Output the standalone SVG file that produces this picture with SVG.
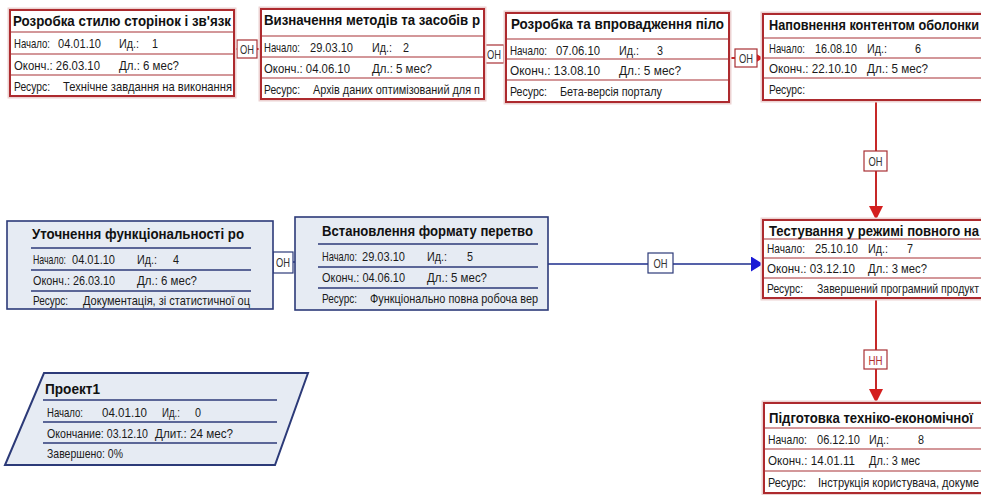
<svg xmlns="http://www.w3.org/2000/svg" width="981" height="495" viewBox="0 0 981 495">
<defs>
<style>
.bg{fill:#ffffff}
.rbox{fill:#ffffff;stroke:#ad2a2e;stroke-width:2}
.rglow{fill:none;stroke:#ecd2d2;stroke-width:5}
.rsep{stroke:#a83034;stroke-width:1.2}
.bbox{fill:#e6ebf3;stroke:#2c3a78;stroke-width:1.6}
.bsep{stroke:#2c3a78;stroke-width:1.6}
.t{font-family:"Liberation Sans",Arial,sans-serif;font-size:13px;fill:#1a1a1a}
.h{font-family:"Liberation Sans",Arial,sans-serif;font-size:15px;font-weight:bold;fill:#111}
.lbl{fill:#ffffff;stroke:#a83034;stroke-width:1.2}
.lblb{fill:#ffffff;stroke:#2c3a78;stroke-width:1.2}
.lt{font-family:"Liberation Sans",Arial,sans-serif;font-size:13px;fill:#333}
.rline{stroke:#c62828;stroke-width:2;fill:none}
.bline{stroke:#1c2c8c;stroke-width:1.5;fill:none}
</style>
<marker id="arrR" markerUnits="userSpaceOnUse" markerWidth="14" markerHeight="16" refX="14" refY="7" orient="auto" viewBox="0 0 14 14"><path d="M0,0 L14,7 L0,14 z" fill="#d41f1f"/></marker>
<marker id="arrRs" markerUnits="userSpaceOnUse" markerWidth="8" markerHeight="10" refX="8" refY="5" orient="auto" viewBox="0 0 8 10"><path d="M0,0 L8,5 L0,10 z" fill="#d41f1f"/></marker>
<marker id="arrB" markerUnits="userSpaceOnUse" markerWidth="12" markerHeight="15" refX="12" refY="7.5" orient="auto" viewBox="0 0 12 15"><path d="M0,0 L12,7.5 L0,15 z" fill="#1a1ad6"/></marker>
</defs>
<rect class="bg" x="0" y="0" width="981" height="495"/>

<g id="connectors">
<line class="rline" x1="234" y1="49" x2="237" y2="49"/>
<line class="rline" x1="257" y1="49" x2="261" y2="49"/>
<line class="rline" x1="504" y1="54" x2="506" y2="54"/>
<line class="rline" x1="729" y1="58" x2="735" y2="58"/>
<line class="rline" x1="757" y1="58" x2="763" y2="58" marker-end="url(#arrRs)"/>
<line class="rline" x1="876" y1="100" x2="876" y2="220" marker-end="url(#arrR)"/>
<line class="rline" x1="876" y1="298" x2="876" y2="403" marker-end="url(#arrR)"/>
<line class="bline" x1="548" y1="264" x2="763" y2="264" marker-end="url(#arrB)"/>
<line class="bline" x1="293" y1="262" x2="295" y2="262"/>
<g id="label-1-2"><rect class="lbl" x="237" y="40" width="20" height="18"/><text class="lt" x="240" y="53.5" textLength="14" lengthAdjust="spacingAndGlyphs">ОН</text></g>
<g id="label-2-3"><rect class="lbl" x="484" y="45" width="20" height="18"/><text class="lt" x="487" y="58.5" textLength="14" lengthAdjust="spacingAndGlyphs">ОН</text></g>
<g id="label-3-6"><rect class="lbl" x="735" y="49" width="22" height="18"/><text class="lt" x="739" y="62.5" textLength="14" lengthAdjust="spacingAndGlyphs">ОН</text></g>
<g id="label-6-7"><rect class="lbl" x="864" y="151" width="23" height="20"/><text class="lt" x="868.5" y="165.5" textLength="14" lengthAdjust="spacingAndGlyphs">ОН</text></g>
<g id="label-7-8"><rect class="lbl" x="864" y="350" width="23" height="19"/><text class="lt" x="868.5" y="364.5" textLength="14" lengthAdjust="spacingAndGlyphs" style="fill:#b03030">НН</text></g>
<g id="label-5-7"><rect class="lblb" x="648" y="253" width="25" height="20"/><text class="lt" x="653.5" y="267.5" textLength="14" lengthAdjust="spacingAndGlyphs">ОН</text></g>
<g id="label-4-5"><rect class="lblb" x="273" y="252" width="20" height="21"/><text class="lt" x="276" y="267" textLength="14" lengthAdjust="spacingAndGlyphs">ОН</text></g>
</g>

<g id="node1">
<rect class="rglow" x="10" y="10" width="224" height="86"/>
<rect class="rbox" x="10" y="10" width="224" height="86"/>
<line class="rsep" x1="10" y1="32" x2="234" y2="32"/>
<line class="rsep" x1="10" y1="54" x2="234" y2="54"/>
<line class="rsep" x1="10" y1="75" x2="234" y2="75"/>
<text class="h" x="13" y="26" textLength="218" lengthAdjust="spacingAndGlyphs">Розробка стилю сторінок і зв'язк</text>
<text class="t" x="14" y="48" textLength="36" lengthAdjust="spacingAndGlyphs">Начало:</text>
<text class="t" x="58" y="48" textLength="43" lengthAdjust="spacingAndGlyphs">04.01.10</text>
<text class="t" x="119" y="48" textLength="20" lengthAdjust="spacingAndGlyphs">Ид.:</text>
<text class="t" x="152" y="48" textLength="6" lengthAdjust="spacingAndGlyphs">1</text>
<text class="t" x="14" y="69.5" textLength="86" lengthAdjust="spacingAndGlyphs">Оконч.: 26.03.10</text>
<text class="t" x="119" y="69.5" textLength="60" lengthAdjust="spacingAndGlyphs">Дл.: 6 мес?</text>
<text class="t" x="14" y="90.5" textLength="36" lengthAdjust="spacingAndGlyphs">Ресурс:</text>
<text class="t" x="63" y="90.5" textLength="169" lengthAdjust="spacingAndGlyphs">Технічне завдання на виконання</text>
</g>

<g id="node2">
<rect class="rglow" x="261" y="9" width="223" height="90"/>
<rect class="rbox" x="261" y="9" width="223" height="90"/>
<line class="rsep" x1="261" y1="36" x2="484" y2="36"/>
<line class="rsep" x1="261" y1="57" x2="484" y2="57"/>
<line class="rsep" x1="261" y1="78" x2="484" y2="78"/>
<text class="h" x="264" y="25" textLength="216" lengthAdjust="spacingAndGlyphs">Визначення методів та засобів р</text>
<text class="t" x="264" y="51.5" textLength="36" lengthAdjust="spacingAndGlyphs">Начало:</text>
<text class="t" x="310" y="51.5" textLength="43" lengthAdjust="spacingAndGlyphs">29.03.10</text>
<text class="t" x="372" y="51.5" textLength="20" lengthAdjust="spacingAndGlyphs">Ид.:</text>
<text class="t" x="403" y="51.5" textLength="6" lengthAdjust="spacingAndGlyphs">2</text>
<text class="t" x="264" y="72.5" textLength="86" lengthAdjust="spacingAndGlyphs">Оконч.: 04.06.10</text>
<text class="t" x="372" y="72.5" textLength="60" lengthAdjust="spacingAndGlyphs">Дл.: 5 мес?</text>
<text class="t" x="264" y="93.5" textLength="36" lengthAdjust="spacingAndGlyphs">Ресурс:</text>
<text class="t" x="313" y="93.5" textLength="167" lengthAdjust="spacingAndGlyphs">Архів даних оптимізований для п</text>
</g>

<g id="node3">
<rect class="rglow" x="506" y="13" width="223" height="89"/>
<rect class="rbox" x="506" y="13" width="223" height="89"/>
<line class="rsep" x1="506" y1="39" x2="729" y2="39"/>
<line class="rsep" x1="506" y1="59" x2="729" y2="59"/>
<line class="rsep" x1="506" y1="80" x2="729" y2="80"/>
<text class="h" x="511" y="29" textLength="213" lengthAdjust="spacingAndGlyphs">Розробка та впровадження піло</text>
<text class="t" x="510" y="54.5" textLength="37" lengthAdjust="spacingAndGlyphs">Начало:</text>
<text class="t" x="556" y="54.5" textLength="44" lengthAdjust="spacingAndGlyphs">07.06.10</text>
<text class="t" x="619" y="54.5" textLength="20" lengthAdjust="spacingAndGlyphs">Ид.:</text>
<text class="t" x="657" y="54.5" textLength="6" lengthAdjust="spacingAndGlyphs">3</text>
<text class="t" x="510" y="74.5" textLength="90" lengthAdjust="spacingAndGlyphs">Оконч.: 13.08.10</text>
<text class="t" x="619" y="74.5" textLength="62" lengthAdjust="spacingAndGlyphs">Дл.: 5 мес?</text>
<text class="t" x="510" y="95.5" textLength="37" lengthAdjust="spacingAndGlyphs">Ресурс:</text>
<text class="t" x="560" y="95.5" textLength="102" lengthAdjust="spacingAndGlyphs">Бета-версія порталу</text>
</g>

<g id="node6">
<rect class="rglow" x="763" y="14" width="230" height="86"/>
<rect class="rbox" x="763" y="14" width="230" height="86"/>
<line class="rsep" x1="763" y1="38" x2="993" y2="38"/>
<line class="rsep" x1="763" y1="58" x2="993" y2="58"/>
<line class="rsep" x1="763" y1="78" x2="993" y2="78"/>
<text class="h" x="769" y="30" textLength="210" lengthAdjust="spacingAndGlyphs">Наповнення контентом оболонки</text>
<text class="t" x="769" y="52.5" textLength="36" lengthAdjust="spacingAndGlyphs">Начало:</text>
<text class="t" x="815" y="52.5" textLength="42" lengthAdjust="spacingAndGlyphs">16.08.10</text>
<text class="t" x="867" y="52.5" textLength="20" lengthAdjust="spacingAndGlyphs">Ид.:</text>
<text class="t" x="915" y="52.5" textLength="6" lengthAdjust="spacingAndGlyphs">6</text>
<text class="t" x="769" y="72.5" textLength="88" lengthAdjust="spacingAndGlyphs">Оконч.: 22.10.10</text>
<text class="t" x="867" y="72.5" textLength="61" lengthAdjust="spacingAndGlyphs">Дл.: 5 мес?</text>
<text class="t" x="769" y="93.5" textLength="36" lengthAdjust="spacingAndGlyphs">Ресурс:</text>
</g>

<g id="node7">
<rect class="rglow" x="763" y="220" width="230" height="78"/>
<rect class="rbox" x="763" y="220" width="230" height="78"/>
<line class="rsep" x1="763" y1="239" x2="993" y2="239"/>
<line class="rsep" x1="763" y1="258" x2="993" y2="258"/>
<line class="rsep" x1="763" y1="278" x2="993" y2="278"/>
<text class="h" x="769" y="236" textLength="210" lengthAdjust="spacingAndGlyphs">Тестування у режимі повного на</text>
<text class="t" x="767" y="253" textLength="38" lengthAdjust="spacingAndGlyphs">Начало:</text>
<text class="t" x="815" y="253" textLength="43" lengthAdjust="spacingAndGlyphs">25.10.10</text>
<text class="t" x="868" y="253" textLength="20" lengthAdjust="spacingAndGlyphs">Ид.:</text>
<text class="t" x="907" y="253" textLength="6" lengthAdjust="spacingAndGlyphs">7</text>
<text class="t" x="767" y="272.5" textLength="88" lengthAdjust="spacingAndGlyphs">Оконч.: 03.12.10</text>
<text class="t" x="868" y="272.5" textLength="59" lengthAdjust="spacingAndGlyphs">Дл.: 3 мес?</text>
<text class="t" x="767" y="292.5" textLength="36" lengthAdjust="spacingAndGlyphs">Ресурс:</text>
<text class="t" x="817" y="292.5" textLength="162" lengthAdjust="spacingAndGlyphs">Завершений програмний продукт</text>
</g>

<g id="node8">
<rect class="rglow" x="764" y="403" width="230" height="90"/>
<rect class="rbox" x="764" y="403" width="230" height="90"/>
<line class="rsep" x1="764" y1="428" x2="994" y2="428"/>
<line class="rsep" x1="764" y1="449" x2="994" y2="449"/>
<line class="rsep" x1="764" y1="471" x2="994" y2="471"/>
<text class="h" x="769" y="423" textLength="204" lengthAdjust="spacingAndGlyphs">Підготовка техніко-економічної</text>
<text class="t" x="768" y="443.5" textLength="39" lengthAdjust="spacingAndGlyphs">Начало:</text>
<text class="t" x="817" y="443.5" textLength="43" lengthAdjust="spacingAndGlyphs">06.12.10</text>
<text class="t" x="869" y="443.5" textLength="20" lengthAdjust="spacingAndGlyphs">Ид.:</text>
<text class="t" x="918" y="443.5" textLength="6" lengthAdjust="spacingAndGlyphs">8</text>
<text class="t" x="768" y="464.5" textLength="87" lengthAdjust="spacingAndGlyphs">Оконч.: 14.01.11</text>
<text class="t" x="869" y="464.5" textLength="51" lengthAdjust="spacingAndGlyphs">Дл.: 3 мес</text>
<text class="t" x="768" y="486.5" textLength="38" lengthAdjust="spacingAndGlyphs">Ресурс:</text>
<text class="t" x="818" y="486.5" textLength="161" lengthAdjust="spacingAndGlyphs">Інструкція користувача, докуме</text>
</g>

<g id="node4">
<rect class="bbox" x="7" y="221" width="266" height="88"/>
<line class="bsep" x1="31" y1="248" x2="251" y2="248"/>
<line class="bsep" x1="31" y1="270" x2="251" y2="270"/>
<line class="bsep" x1="31" y1="291" x2="251" y2="291"/>
<text class="h" x="32" y="239" textLength="212" lengthAdjust="spacingAndGlyphs">Уточнення функціональності ро</text>
<text class="t" x="33" y="264" textLength="33" lengthAdjust="spacingAndGlyphs">Начало:</text>
<text class="t" x="72" y="264" textLength="43" lengthAdjust="spacingAndGlyphs">04.01.10</text>
<text class="t" x="137" y="264" textLength="20" lengthAdjust="spacingAndGlyphs">Ид.:</text>
<text class="t" x="173" y="264" textLength="6" lengthAdjust="spacingAndGlyphs">4</text>
<text class="t" x="33" y="285" textLength="82" lengthAdjust="spacingAndGlyphs">Оконч.: 26.03.10</text>
<text class="t" x="137" y="285" textLength="60" lengthAdjust="spacingAndGlyphs">Дл.: 6 мес?</text>
<text class="t" x="33" y="305" textLength="35" lengthAdjust="spacingAndGlyphs">Ресурс:</text>
<text class="t" x="83" y="305" textLength="167" lengthAdjust="spacingAndGlyphs">Документація, зі статистичної оц</text>
</g>

<g id="node5">
<rect class="bbox" x="295" y="217" width="253" height="93"/>
<line class="bsep" x1="318" y1="244" x2="538" y2="244"/>
<line class="bsep" x1="318" y1="267" x2="538" y2="267"/>
<line class="bsep" x1="318" y1="288" x2="538" y2="288"/>
<text class="h" x="322" y="236" textLength="211" lengthAdjust="spacingAndGlyphs">Встановлення формату перетво</text>
<text class="t" x="322" y="260.5" textLength="35" lengthAdjust="spacingAndGlyphs">Начало:</text>
<text class="t" x="362" y="260.5" textLength="43" lengthAdjust="spacingAndGlyphs">29.03.10</text>
<text class="t" x="427" y="260.5" textLength="20" lengthAdjust="spacingAndGlyphs">Ид.:</text>
<text class="t" x="467" y="260.5" textLength="6" lengthAdjust="spacingAndGlyphs">5</text>
<text class="t" x="322" y="282" textLength="83" lengthAdjust="spacingAndGlyphs">Оконч.: 04.06.10</text>
<text class="t" x="427" y="282" textLength="60" lengthAdjust="spacingAndGlyphs">Дл.: 5 мес?</text>
<text class="t" x="322" y="302.5" textLength="35" lengthAdjust="spacingAndGlyphs">Ресурс:</text>
<text class="t" x="370" y="302.5" textLength="168" lengthAdjust="spacingAndGlyphs">Функціонально повна робоча вер</text>
</g>

<g id="node0">
<polygon class="bbox" points="44,373 308,373 275,465 5,465" style="stroke-width:2"/>
<line class="bsep" x1="43" y1="400" x2="277" y2="400"/>
<line class="bsep" x1="43" y1="422" x2="277" y2="422"/>
<line class="bsep" x1="43" y1="443" x2="277" y2="443"/>
<text class="h" x="45" y="394" textLength="55" lengthAdjust="spacingAndGlyphs">Проект1</text>
<text class="t" x="47" y="416.5" textLength="36" lengthAdjust="spacingAndGlyphs">Начало:</text>
<text class="t" x="102" y="416.5" textLength="45" lengthAdjust="spacingAndGlyphs">04.01.10</text>
<text class="t" x="162" y="416.5" textLength="18" lengthAdjust="spacingAndGlyphs">Ид.:</text>
<text class="t" x="195" y="416.5" textLength="6" lengthAdjust="spacingAndGlyphs">0</text>
<text class="t" x="47" y="437.5" textLength="101" lengthAdjust="spacingAndGlyphs">Окончание: 03.12.10</text>
<text class="t" x="155" y="437.5" textLength="78" lengthAdjust="spacingAndGlyphs">Длит.: 24 мес?</text>
<text class="t" x="47" y="458" textLength="76" lengthAdjust="spacingAndGlyphs">Завершено: 0%</text>
</g>
</svg>
